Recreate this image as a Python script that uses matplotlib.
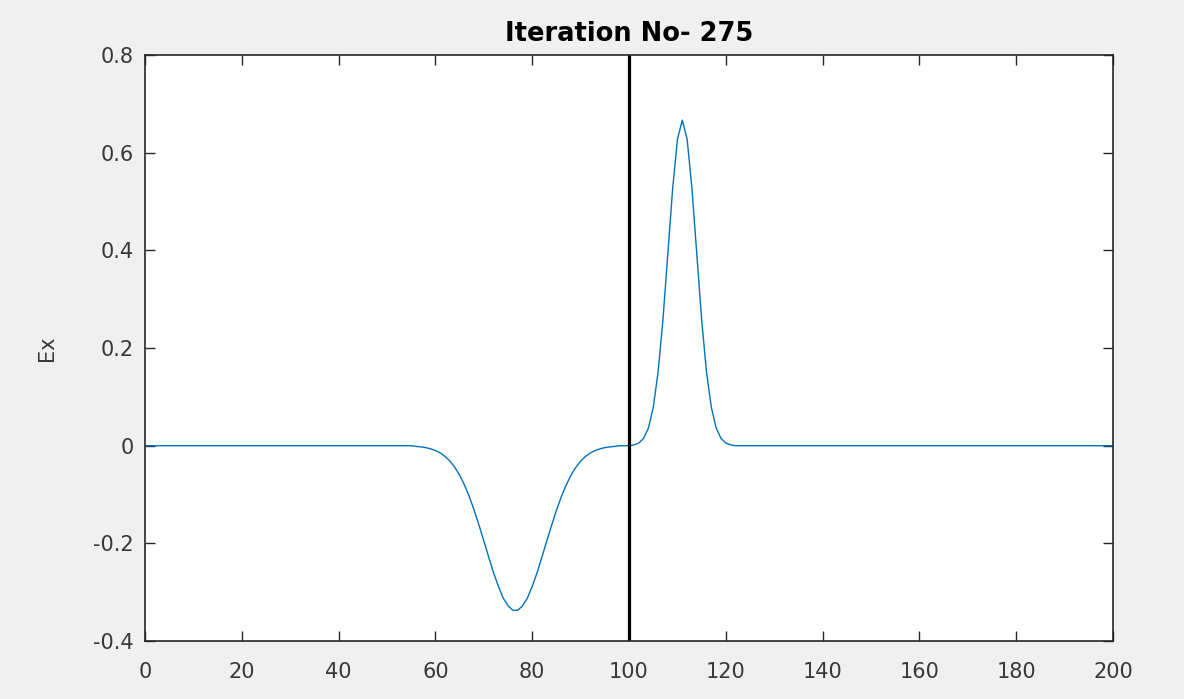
import numpy as np
import matplotlib
matplotlib.use("Agg")
import matplotlib.pyplot as plt

# grid cell index and field value (zero elsewhere)
x_cells = list(range(0, 201))

neg_x = list(range(56, 98))
neg_ex = [-0.0014, -0.0024, -0.0039, -0.0063, -0.0098, -0.0148, -0.0219, -0.0316,
          -0.0443, -0.0605, -0.0806, -0.1045, -0.132, -0.163, -0.195, -0.228,
          -0.260, -0.288, -0.312, -0.328, -0.337, -0.337, -0.328, -0.312,
          -0.288, -0.260, -0.228, -0.195, -0.163, -0.132, -0.1045, -0.0806,
          -0.0605, -0.0443, -0.0316, -0.0219, -0.0148, -0.0098, -0.0063,
          -0.0039, -0.0024, -0.0014]

pos_x = list(range(101, 122))
pos_ex = [0.0017, 0.0054, 0.0149, 0.0362, 0.0784, 0.151, 0.258, 0.391, 0.526,
          0.628, 0.667, 0.628, 0.526, 0.391, 0.258, 0.151, 0.0784, 0.0362,
          0.0149, 0.0054, 0.0017]

boundary_x = 100
iteration = 275

ex = np.zeros(len(x_cells))
for xi, v in zip(neg_x, neg_ex):
    ex[xi] = v
for xi, v in zip(pos_x, pos_ex):
    ex[xi] = v

plt.rcParams['font.family'] = ['DejaVu Sans']
fig = plt.figure(figsize=(11.84, 6.99), dpi=100, facecolor='#f0f0f0')
ax = fig.add_axes([0.1225, 0.083, 0.8176, 0.838])
ax.set_facecolor('white')

ax.plot(x_cells, ex, color='#0072BD', lw=1.0)
ax.axvline(boundary_x, color='black', lw=2.3)

ax.set_xlim(0, 200)
ax.set_ylim(-0.4, 0.8)
ax.set_xticks(range(0, 201, 20))
ax.set_yticks([-0.4, -0.2, 0, 0.2, 0.4, 0.6, 0.8])
ax.set_yticklabels(['-0.4', '-0.2', '0', '0.2', '0.4', '0.6', '0.8'])

ax.tick_params(direction='in', length=7, width=1, colors='#262626',
               labelcolor='#383838', labelsize=15, top=True, right=True)
ax.tick_params(axis='y', pad=8)
ax.tick_params(axis='x', pad=15)
for s in ax.spines.values():
    s.set_color('#262626')
    s.set_linewidth(1.2)

ax.set_ylabel('Ex', fontsize=15, color='#383838', labelpad=26)
ax.set_title(f'Iteration No- {iteration}', fontsize=18.5, fontweight='bold', pad=10)

fig.savefig('out.png', dpi=100, facecolor=fig.get_facecolor())
